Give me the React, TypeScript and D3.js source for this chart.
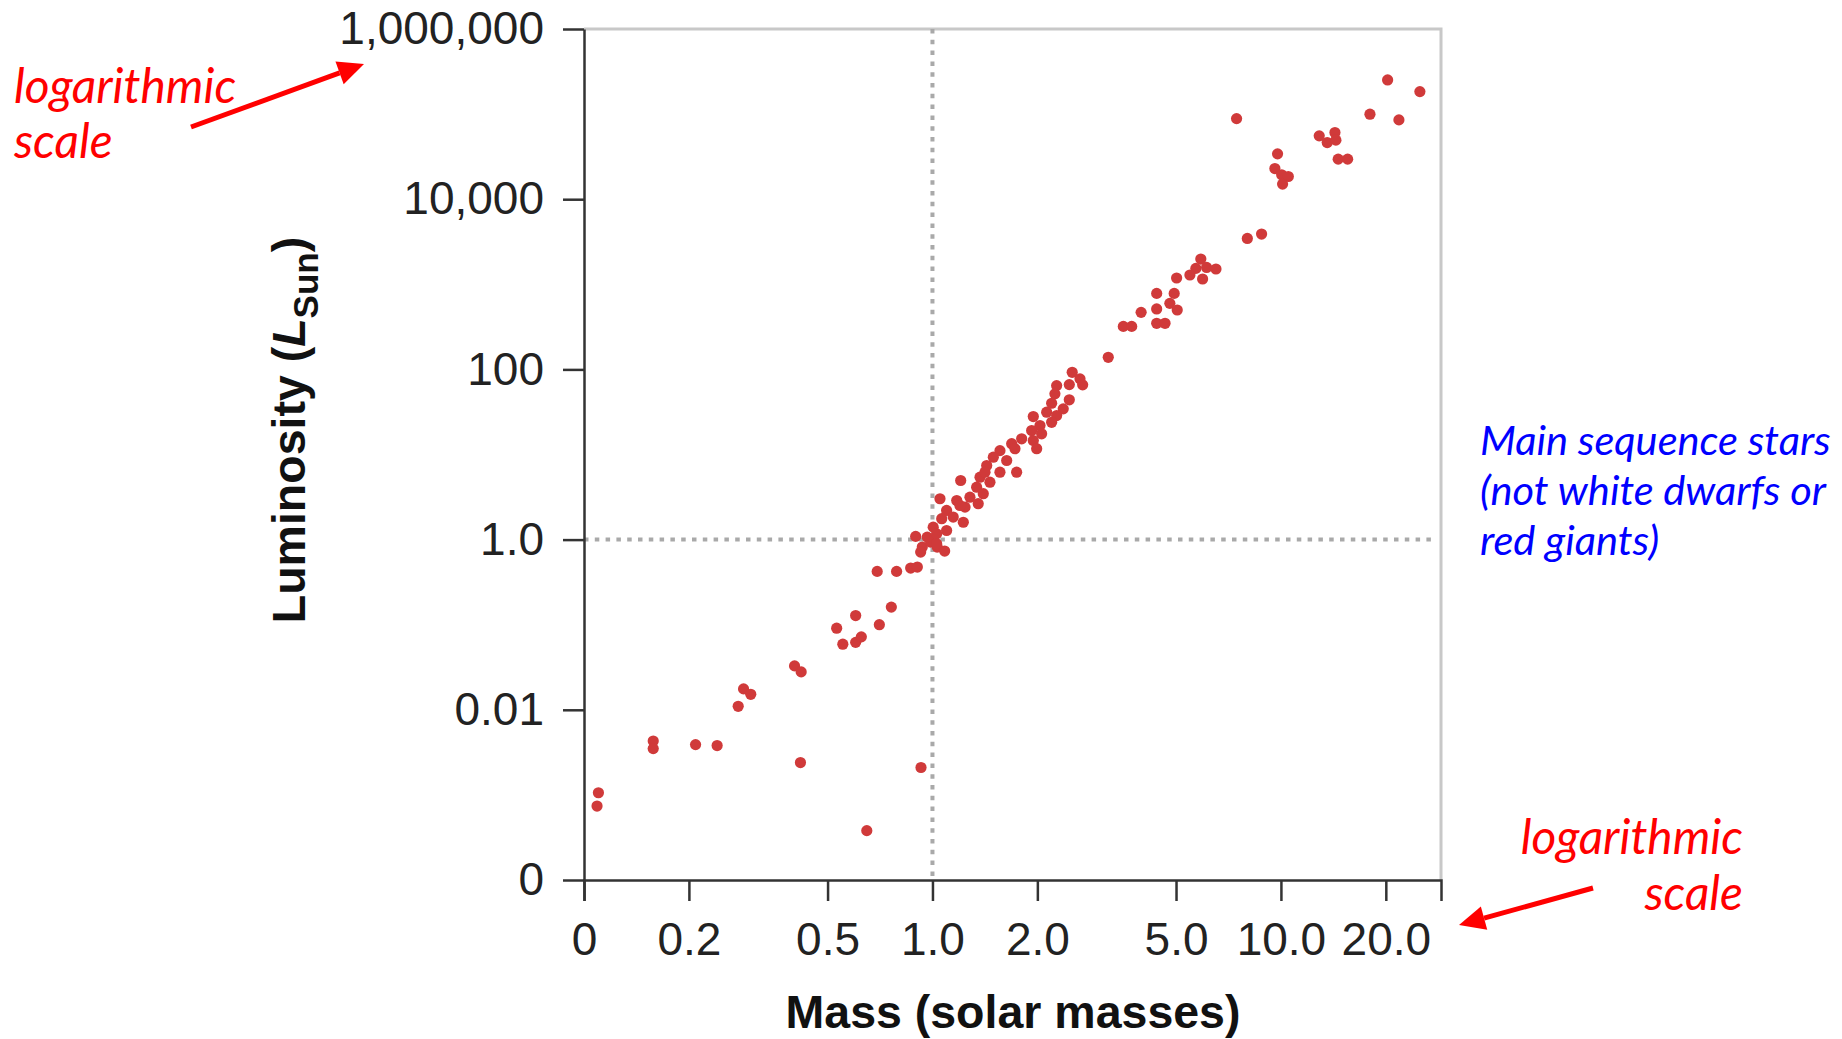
import { useEffect, useRef } from 'react';
import * as d3 from 'd3';

const WIDTH = 1842;
const HEIGHT = 1039;

// Mass (solar masses) and luminosity (L_Sun) of each star
const mass = [
  0.110, 0.109, 0.158, 0.158, 0.209, 0.241, 0.277, 0.287, 0.301, 0.402,
  0.420, 0.418, 0.531, 0.553, 0.602, 0.602, 0.625, 0.704, 0.762, 0.694,
  0.789, 0.866, 0.905, 0.927, 0.648, 0.895, 0.935, 0.925, 0.988, 1.032,
  1.084, 0.966, 3.195, 2.518, 2.651, 2.698, 2.272, 2.470, 2.246, 2.470,
  2.198, 2.373, 2.127, 1.947, 2.272, 2.198, 2.035, 1.926, 2.057, 1.803,
  1.688, 1.947, 1.991, 1.562, 1.725, 1.495, 1.633, 1.431, 1.562, 1.744,
  1.369, 1.462, 1.205, 1.339, 1.399, 1.281, 1.051, 1.174, 1.353, 1.240,
  1.098, 1.147, 1.226, 1.063, 1.005, 1.098, 1.028, 1.028, 1.415, 1.199,
  7.46, 20.24, 25.05, 18.01, 21.81, 12.88, 13.58, 14.29, 14.38, 14.60,
  15.54, 9.78, 9.61, 10.05, 10.50, 10.11, 8.01, 8.80, 5.89, 5.70,
  5.48, 6.12, 6.51, 5.96, 5.02, 4.40, 4.94, 4.80, 5.04, 4.40,
  3.97, 3.53, 3.73, 4.40, 4.65,
];
const luminosity = [
  0.00106, 0.00074, 0.0043, 0.0035, 0.0039, 0.0038, 0.0110, 0.0176, 0.0152, 0.0328,
  0.0279, 0.0024, 0.091, 0.059, 0.128, 0.062, 0.072, 0.100, 0.161, 0.423,
  0.423, 0.463, 0.476, 0.0021, 0.00038, 1.09, 0.817, 0.713, 0.935, 0.817,
  0.733, 1.07, 138.7, 92.5, 77.4, 65.8, 64.5, 66.3, 51.6, 43.9,
  40.0, 34.4, 31.4, 27.9, 28.7, 23.9, 21.9, 19.1, 17.5, 15.3,
  13.4, 14.6, 11.7, 11.1, 11.7, 9.30, 8.50, 7.43, 6.20, 6.20,
  5.41, 4.73, 4.95, 4.13, 3.46, 3.15, 3.02, 2.88, 2.64, 2.41,
  2.20, 1.84, 1.60, 1.76, 1.40, 1.28, 1.17, 0.895, 6.20, 2.52,
  88550, 251970, 183700, 99700, 85500, 55480, 46300, 60670, 49400, 29560,
  29560, 34110, 22930, 19340, 18470, 15040, 3457, 3895, 1981, 1537,
  1286, 1579, 1512, 1154, 1186, 782, 782, 597, 499, 513,
  468, 320, 320, 348, 348,
];

const xTicks = [0.1, 0.2, 0.5, 1, 2, 5, 10, 20];
const xTickLabels = ['0', '0.2', '0.5', '1.0', '2.0', '5.0', '10.0', '20.0'];
const yTicks = [1e-4, 0.01, 1, 100, 1e4, 1e6];
const yTickLabels = ['0', '0.01', '1.0', '100', '10,000', '1,000,000'];

const AXIS_FONT = '"Liberation Sans", Arial, sans-serif';
const NOTE_FONT = 'Lato, "Open Sans", sans-serif';

export default function App() {
  const svgRef = useRef<SVGSVGElement>(null);

  useEffect(() => {
    const svg = d3.select(svgRef.current);
    svg.selectAll('*').remove();

    const left = 584, right = 1441, top = 29, bottom = 880;

    const x = d3.scaleLog().domain([0.1, 28.8]).range([left, right]);
    const y = d3.scaleLog().domain([1e-4, 1e6]).range([bottom, top]);

    // light frame on top and right
    svg.append('path')
      .attr('d', `M${left},${top}H${right}V${bottom}`)
      .attr('fill', 'none')
      .attr('stroke', '#c8c8c8')
      .attr('stroke-width', 3);

    // dotted reference lines through the Sun
    svg.append('line')
      .attr('x1', x(1)).attr('x2', x(1))
      .attr('y1', top).attr('y2', bottom)
      .attr('stroke', '#a9a9a9')
      .attr('stroke-width', 4)
      .attr('stroke-dasharray', '4.5 6.3');
    svg.append('line')
      .attr('x1', left).attr('x2', right - 8)
      .attr('y1', y(1)).attr('y2', y(1))
      .attr('stroke', '#a9a9a9')
      .attr('stroke-width', 4)
      .attr('stroke-dasharray', '4.5 6.3');

    // stars
    svg.append('g')
      .selectAll('circle')
      .data(mass.map((m, i) => [m, luminosity[i]]))
      .join('circle')
      .attr('cx', d => x(d[0]))
      .attr('cy', d => y(d[1]))
      .attr('r', 5.6)
      .attr('fill', '#d03a3a');

    // axes
    const xAxis = d3.axisBottom(x)
      .tickValues(xTicks)
      .tickFormat((d, i) => xTickLabels[i])
      .tickSize(21)
      .tickSizeOuter(21)
      .tickPadding(21);
    const yAxis = d3.axisLeft(y)
      .tickValues(yTicks)
      .tickFormat((d, i) => yTickLabels[i])
      .tickSize(21)
      .tickSizeOuter(0)
      .tickPadding(19);

    const gx = svg.append('g').attr('transform', `translate(0,${bottom})`).call(xAxis);
    const gy = svg.append('g').attr('transform', `translate(${left},0)`).call(yAxis);

    [gx, gy].forEach(g => {
      g.attr('font-size', 46).attr('font-family', AXIS_FONT);
      g.selectAll('path, line').attr('stroke', '#333').attr('stroke-width', 2.5);
      g.selectAll('text').attr('fill', '#222');
    });

    // axis titles
    svg.append('text')
      .attr('x', 1013)
      .attr('y', 1028)
      .attr('text-anchor', 'middle')
      .attr('font-family', AXIS_FONT)
      .attr('font-weight', 'bold')
      .attr('font-size', 46.5)
      .attr('fill', '#111')
      .text('Mass (solar masses)');

    const yTitle = svg.append('text')
      .attr('transform', 'translate(305,430) rotate(-90)')
      .attr('text-anchor', 'middle')
      .attr('font-family', AXIS_FONT)
      .attr('font-weight', 'bold')
      .attr('font-size', 46.5)
      .attr('fill', '#111');
    yTitle.append('tspan').text('Luminosity (');
    yTitle.append('tspan').attr('font-style', 'italic').text('L');
    yTitle.append('tspan').attr('font-size', 35).attr('dy', 13).text('Sun');
    yTitle.append('tspan').attr('dy', -13).text(')');

    // annotations
    const arrow = (x1: number, y1: number, x2: number, y2: number) => {
      const a = Math.atan2(y2 - y1, x2 - x1);
      const len = 26, half = 12;
      const bx = x2 - len * Math.cos(a), by = y2 - len * Math.sin(a);
      svg.append('line')
        .attr('x1', x1).attr('y1', y1).attr('x2', bx).attr('y2', by)
        .attr('stroke', '#ff0000').attr('stroke-width', 5);
      svg.append('path')
        .attr('d', `M${x2},${y2}L${bx + half * Math.sin(a)},${by - half * Math.cos(a)}L${bx - half * Math.sin(a)},${by + half * Math.cos(a)}Z`)
        .attr('fill', '#ff0000');
    };

    const note = (lines: string[], tx: number, ty: number, gap: number, color: string, size: number, anchor: string) => {
      const t = svg.append('text')
        .attr('font-family', NOTE_FONT)
        .attr('font-style', 'italic')
        .attr('font-size', size)
        .attr('fill', color)
        .attr('text-anchor', anchor);
      lines.forEach((s, i) => t.append('tspan').attr('x', tx).attr('y', ty + i * gap).text(s));
    };

    note(['logarithmic', 'scale'], 14, 103, 55, '#ff0000', 47.8, 'start');
    arrow(191, 127, 364, 64);

    note(['logarithmic', 'scale'], 1743, 854, 56, '#ff0000', 47.8, 'end');
    arrow(1593, 888, 1459, 925);

    note(['Main sequence stars', '(not white dwarfs or', 'red giants)'], 1480, 455, 50, '#0000ff', 41.6, 'start');
  }, []);

  return (
    <svg
      ref={svgRef}
      width={WIDTH}
      height={HEIGHT}
      style={{ position: 'absolute', left: 0, top: 0, background: '#fff' }}
    />
  );
}
